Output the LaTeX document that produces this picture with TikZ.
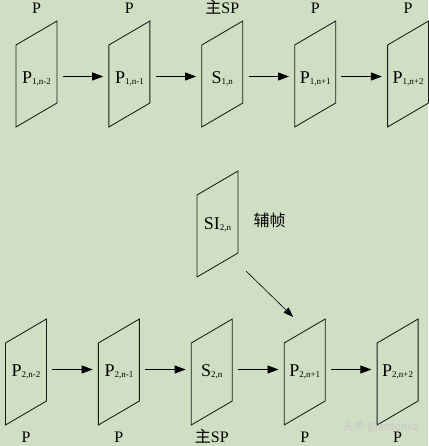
\documentclass[tikz,border=0pt]{standalone}
\usepackage{fontspec}
\setmainfont{Liberation Serif}
\newfontfamily\cjk{Noto Sans CJK SC}
\usetikzlibrary{positioning,arrows.meta}
\definecolor{bgreen}{HTML}{D0DFC3}
\newcommand{\fr}[2]{#1\raisebox{-1pt}{\fontsize{9}{9}\selectfont #2}}

\begin{document}
\begin{tikzpicture}[x=1pt, y=1pt, node distance=51.5pt,
    frm/.style={minimum width=41pt, inner sep=0pt, font=\fontsize{18}{18}\selectfont},
    lbl/.style={anchor=base, inner sep=0pt, font=\fontsize{16}{16}\selectfont},
    edge/.style={line width=0.8pt, -{Triangle[length=11pt,width=8pt]}},
    slant/.style={line width=0.85pt, draw=black!90}]
    \fill[bgreen] (0,0) rectangle (428,446);
    \useasboundingbox (0,0) rectangle (428,446);

    % upper row
    \node[frm] (p1) at (36.5,367) {\fr{P}{1,n-2}};
    \node[frm, right=of p1] (p2) {\fr{P}{1,n-1}};
    \node[frm, right=of p2] (p3) {\fr{S}{1,n}};
    \node[frm, right=of p3] (p4) {\fr{P}{1,n+1}};
    \node[frm, right=of p4] (p5) {\fr{P}{1,n+2}};

    % lower row
    \node[frm] (q1) at (26,74) {\fr{P}{2,n-2}};
    \node[frm, right=of q1] (q2) {\fr{P}{2,n-1}};
    \node[frm, right=of q2] (q3) {\fr{S}{2,n}};
    \node[frm, right=of q3] (q4) {\fr{P}{2,n+1}};
    \node[frm, right=of q4] (q5) {\fr{P}{2,n+2}};

    \node[frm] (si) at (217.5,221) {\fr{SI}{2,n}};
    \node[font=\cjk\fontsize{16}{16}\selectfont, right=12pt of si, yshift=5pt] (aux) {辅帧};

    \foreach \f/\dy in {p1/5,p2/5,p3/5,p4/5,p5/5,q1/0,q2/0,q3/0,q4/0,q5/0,si/1}
        \draw[slant] ([shift={(-20.5,\dy-53)}]\f.center) -- ++(0,82) -- ++(41,24) -- ++(0,-82) -- cycle;

    \foreach \a/\b in {p1/p2,p2/p3,p3/p4,p4/p5,q1/q2,q2/q3,q3/q4,q4/q5}
        \draw[edge] ([shift={(5.5,2.5)}]\a.east) -- ([shift={(-5.5,2.5)}]\b.west);

    \draw[line width=0.6pt, -{Triangle[length=10pt,width=7pt]}] ([shift={(28.5,-46)}]si.center) -- ([shift={(-11.5,55)}]q4.center);

    % frame types
    \foreach \f/\t in {p1/P,p2/P,p4/P,p5/P}
        \node[lbl] at ([yshift=65pt]\f.center) {\t};
    \node[lbl] at ([yshift=65pt]p3.center) {{\cjk 主}SP};
    \foreach \f/\t in {q1/P,q2/P,q4/P,q5/P}
        \node[lbl] at ([yshift=-71pt]\f.center) {\t};
    \node[lbl] at ([yshift=-71pt]q3.center) {{\cjk 主}SP};

    \node[font=\cjk\fontsize{11}{11}\selectfont, text=gray!45] (wm) at (380,19) {头条 @antonio};
\end{tikzpicture}
\end{document}
